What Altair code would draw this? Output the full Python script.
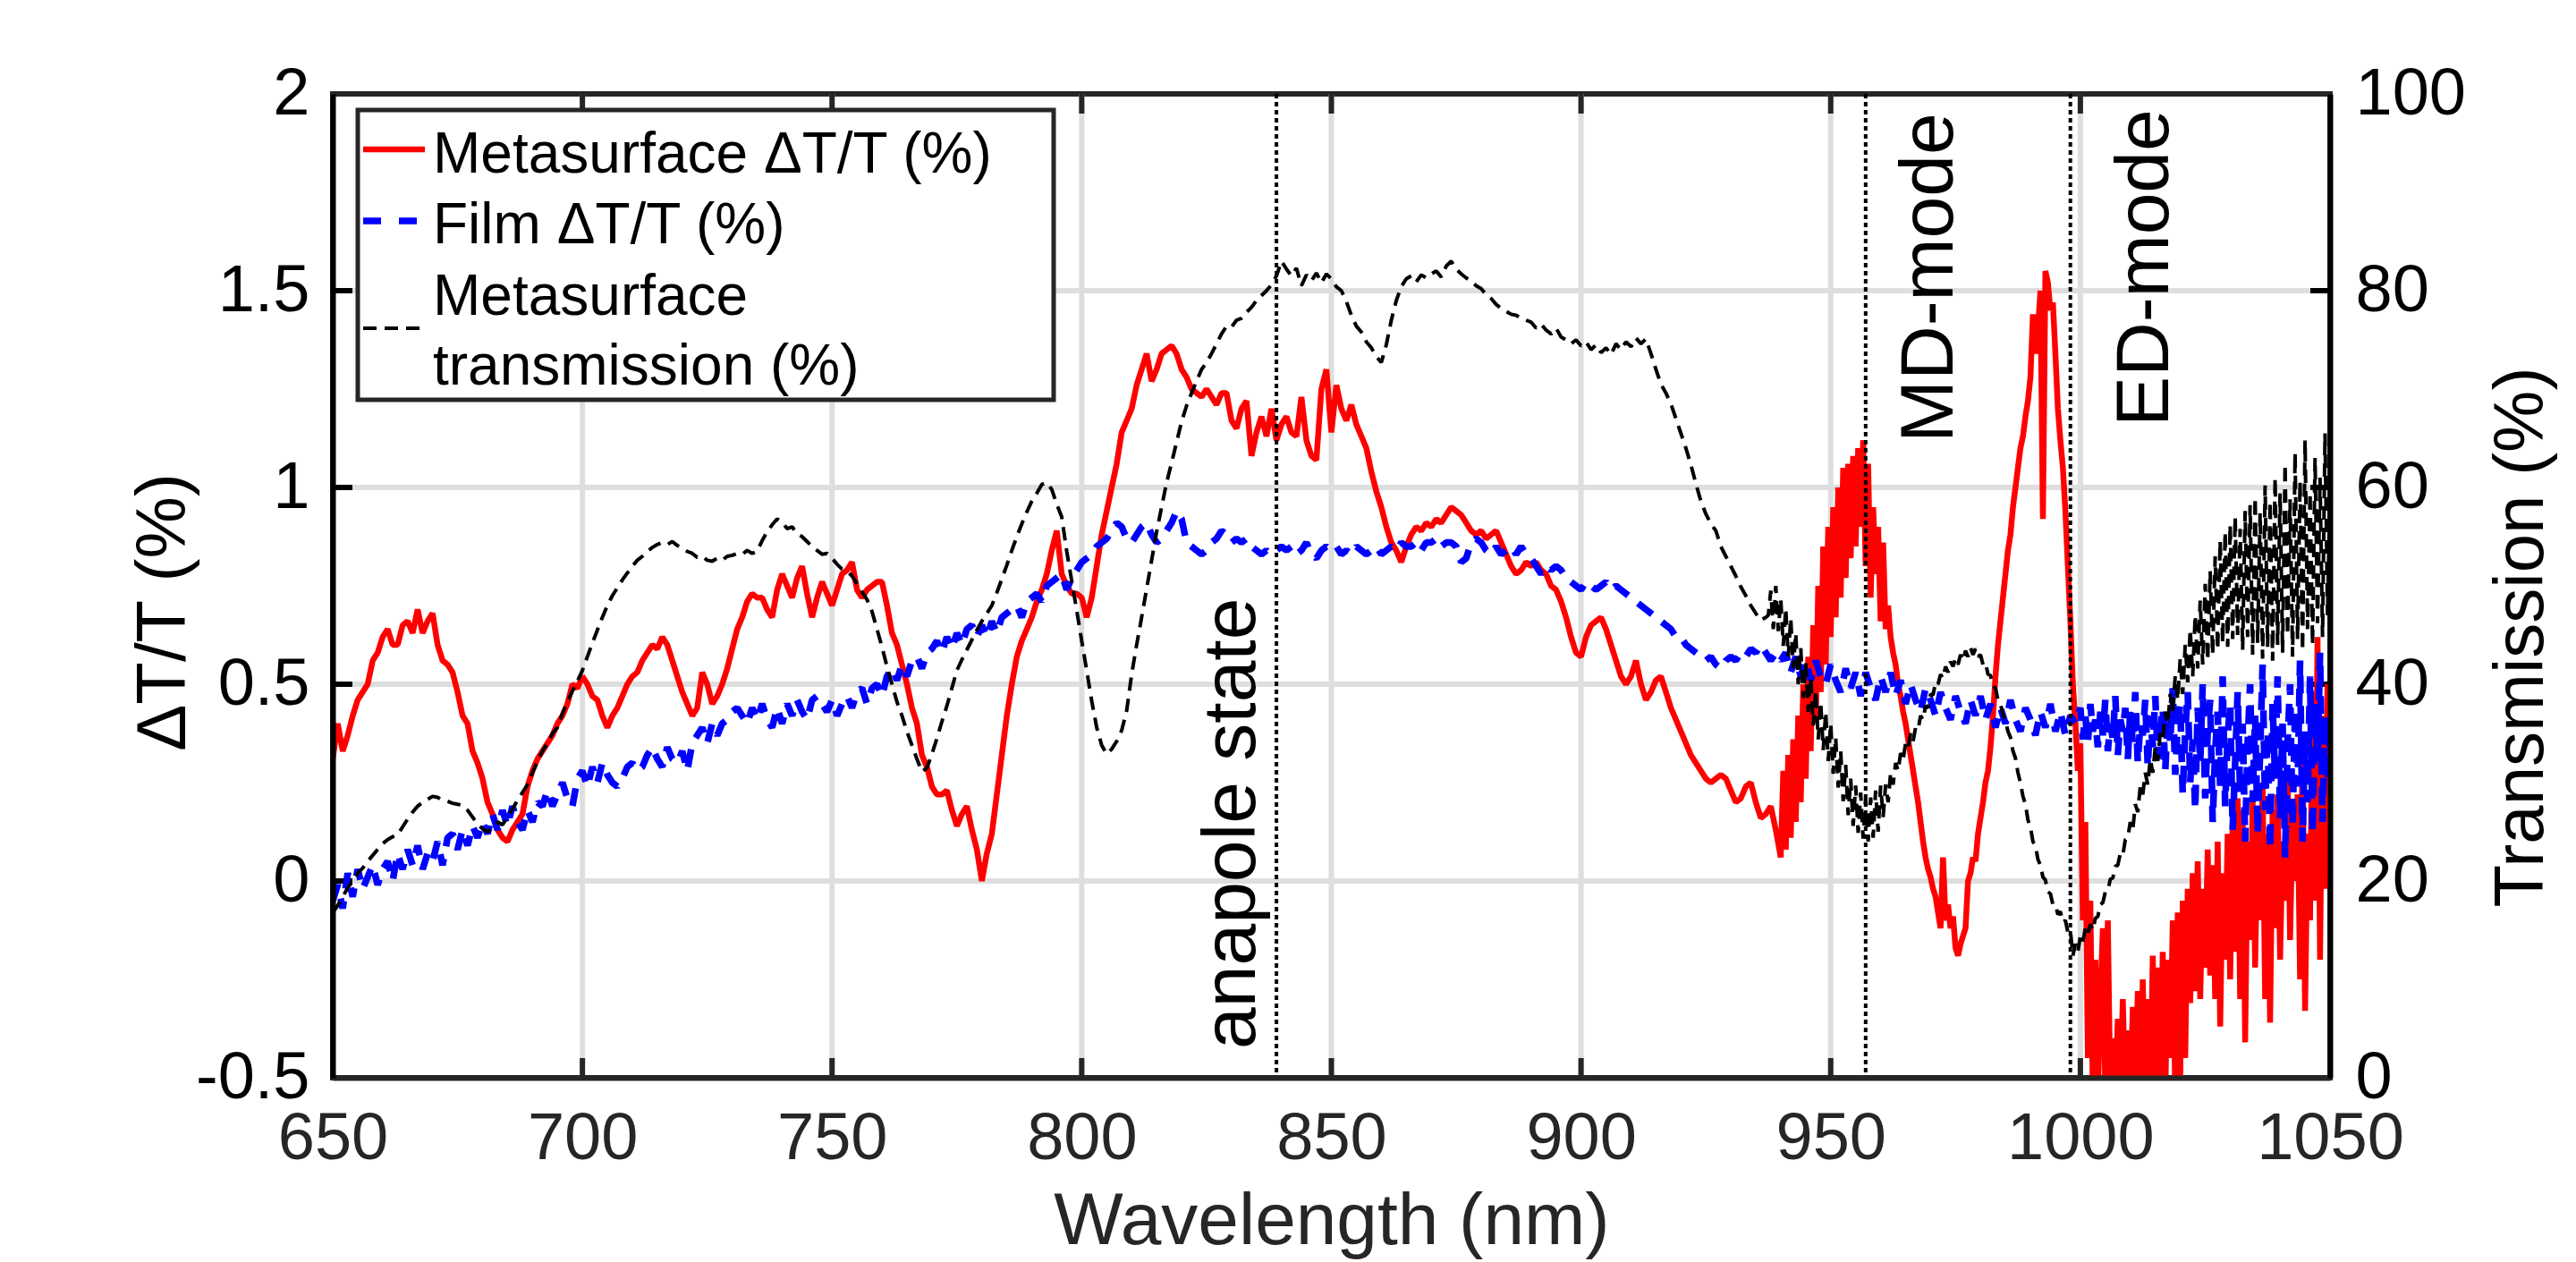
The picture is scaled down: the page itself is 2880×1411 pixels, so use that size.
import altair as alt
import pandas as pd

# ---------------------------------------------------------------------------
# Measured spectra
# ---------------------------------------------------------------------------
# Metasurface dT/T (%), 650-939 nm, 1 nm steps
red_a = [
    0.31, 0.40, 0.33, 0.37, 0.42, 0.46, 0.48, 0.50, 0.56, 0.58,
    0.62, 0.64, 0.60, 0.60, 0.65, 0.66, 0.63, 0.69, 0.63, 0.66,
    0.68, 0.60, 0.56, 0.55, 0.53, 0.48, 0.42, 0.40, 0.33, 0.30,
    0.26, 0.20, 0.17, 0.13, 0.11, 0.10, 0.13, 0.15, 0.17, 0.24,
    0.28, 0.31, 0.33, 0.35, 0.37, 0.40, 0.42, 0.45, 0.50, 0.49,
    0.52, 0.50, 0.47, 0.46, 0.42, 0.39, 0.42, 0.44, 0.47, 0.50,
    0.52, 0.53, 0.56, 0.58, 0.60, 0.59, 0.62, 0.60, 0.56, 0.52,
    0.48, 0.45, 0.42, 0.44, 0.53, 0.50, 0.45, 0.47, 0.50, 0.54,
    0.59, 0.64, 0.67, 0.71, 0.73, 0.72, 0.72, 0.69, 0.67, 0.74,
    0.78, 0.75, 0.72, 0.77, 0.80, 0.73, 0.67, 0.72, 0.76, 0.73,
    0.70, 0.74, 0.78, 0.79, 0.81, 0.74, 0.72, 0.74, 0.75, 0.76,
    0.76, 0.70, 0.63, 0.60, 0.55, 0.50, 0.44, 0.40, 0.32, 0.29,
    0.24, 0.22, 0.22, 0.23, 0.18, 0.14, 0.17, 0.19, 0.13, 0.08,
    0.00, 0.07, 0.12, 0.22, 0.32, 0.42, 0.50, 0.57, 0.61, 0.64,
    0.67, 0.71, 0.74, 0.78, 0.84, 0.89, 0.78, 0.75, 0.73, 0.73,
    0.72, 0.67, 0.72, 0.80, 0.88, 0.94, 1.00, 1.06, 1.14, 1.17,
    1.20, 1.26, 1.30, 1.34, 1.27, 1.30, 1.34, 1.35, 1.36, 1.34,
    1.30, 1.28, 1.25, 1.24, 1.23, 1.25, 1.23, 1.21, 1.24, 1.24,
    1.17, 1.15, 1.20, 1.22, 1.08, 1.14, 1.18, 1.13, 1.20, 1.12,
    1.16, 1.18, 1.14, 1.13, 1.23, 1.12, 1.08, 1.07, 1.25, 1.30,
    1.14, 1.26, 1.20, 1.17, 1.21, 1.16, 1.13, 1.10, 1.04, 0.99,
    0.95, 0.90, 0.86, 0.84, 0.81, 0.85, 0.88, 0.90, 0.89, 0.91,
    0.90, 0.92, 0.91, 0.93, 0.95, 0.94, 0.93, 0.91, 0.89, 0.88,
    0.89, 0.87, 0.88, 0.89, 0.86, 0.83, 0.80, 0.78, 0.79, 0.81,
    0.80, 0.81, 0.79, 0.78, 0.75, 0.74, 0.71, 0.67, 0.62, 0.58,
    0.57, 0.62, 0.65, 0.66, 0.67, 0.64, 0.60, 0.56, 0.52, 0.50,
    0.52, 0.56, 0.50, 0.46, 0.48, 0.51, 0.52, 0.48, 0.44, 0.41,
    0.38, 0.35, 0.32, 0.30, 0.28, 0.26, 0.25, 0.26, 0.27, 0.26,
    0.23, 0.20, 0.21, 0.24, 0.25, 0.20, 0.16, 0.17, 0.19, 0.13,
]
# Metasurface dT/T (%), 940-1050 nm, 0.5 nm steps
red_b = [
    0.06, 0.28, 0.08, 0.32, 0.11, 0.36, 0.15, 0.42, 0.20, 0.50,
    0.26, 0.57, 0.33, 0.65, 0.40, 0.75, 0.48, 0.85, 0.55, 0.90,
    0.62, 0.95, 0.67, 1.00, 0.72, 1.05, 0.77, 1.06, 0.82, 1.08,
    0.85, 1.10, 0.90, 1.12, 0.80, 1.06, 0.72, 0.95, 0.78, 0.90,
    0.66, 0.86, 0.64, 0.70, 0.62, 0.58, 0.55, 0.50, 0.47, 0.43,
    0.40, 0.36, 0.32, 0.28, 0.24, 0.20, 0.15, 0.10, 0.06, 0.03,
    0.01, -0.02, -0.04, -0.08, -0.12, 0.06, -0.10, -0.06, -0.12, -0.09,
    -0.17, -0.19, -0.16, -0.14, -0.12, 0.00, 0.02, 0.06, 0.05, 0.12,
    0.16, 0.20, 0.25, 0.28, 0.34, 0.42, 0.52, 0.60, 0.66, 0.72,
    0.78, 0.84, 0.88, 0.95, 1.00, 1.05, 1.10, 1.13, 1.18, 1.22,
    1.28, 1.44, 1.34, 1.40, 1.50, 0.92, 1.55, 1.52, 1.45, 1.47,
    1.34, 1.20, 1.12, 1.05, 0.94, 0.80, 0.66, 0.50, 0.40, 0.28,
    0.35, -0.10, 0.15, -0.45, -0.05, -0.55, -0.20, -0.55, -0.30, -0.12,
    -0.55, -0.10, -0.55, -0.40, -0.55, -0.35, -0.55, -0.30, -0.55, -0.38,
    -0.55, -0.32, -0.55, -0.28, -0.55, -0.25, -0.55, -0.30, -0.55, -0.19,
    -0.55, -0.22, -0.50, -0.18, -0.55, -0.20, -0.45, -0.10, -0.55, -0.08,
    -0.50, -0.05, -0.45, -0.02, -0.31, 0.02, -0.28, 0.05, -0.30, -0.02,
    -0.22, 0.08, -0.24, 0.04, -0.30, 0.10, -0.37, 0.02, -0.20, 0.12,
    -0.25, 0.15, -0.18, 0.21, -0.30, 0.18, -0.41, 0.10, -0.15, 0.20,
    -0.22, 0.14, -0.10, 0.25, -0.30, 0.12, -0.36, 0.18, -0.12, 0.22,
    -0.20, 0.10, -0.05, 0.28, -0.15, 0.16, 0.00, 0.22, -0.25, 0.35,
    -0.33, 0.12, -0.10, 0.48, -0.05, 0.62, -0.20, 0.42, -0.02, 0.50,
    0.10,
]

# Film dT/T (%), 650-999 nm, 1 nm steps
blue_a = [
    -0.05, -0.01, -0.07, 0.02, -0.04, 0.03, -0.02, 0.01, 0.04, -0.01,
    0.03, 0.05, 0.00, 0.07, 0.03, 0.08, 0.04, 0.09, 0.03, 0.07,
    0.05, 0.10, 0.04, 0.11, 0.12, 0.08, 0.13, 0.09, 0.14, 0.11,
    0.15, 0.12, 0.17, 0.13, 0.18, 0.14, 0.19, 0.15, 0.13, 0.18,
    0.15, 0.20, 0.19, 0.23, 0.19, 0.22, 0.25, 0.21, 0.19, 0.26,
    0.28, 0.24, 0.29, 0.25, 0.30, 0.27, 0.25, 0.24, 0.26, 0.29,
    0.30, 0.28, 0.29, 0.32, 0.34, 0.31, 0.29, 0.34, 0.31, 0.30,
    0.33, 0.28, 0.35, 0.37, 0.39, 0.35, 0.40, 0.37, 0.40, 0.41,
    0.43, 0.44, 0.42, 0.40, 0.44, 0.41, 0.45, 0.41, 0.39, 0.44,
    0.40, 0.45, 0.42, 0.46, 0.43, 0.41, 0.46, 0.47, 0.45, 0.43,
    0.46, 0.42, 0.45, 0.47, 0.44, 0.48, 0.49, 0.45, 0.49, 0.50,
    0.47, 0.52, 0.54, 0.51, 0.55, 0.52, 0.56, 0.57, 0.54, 0.58,
    0.59, 0.61, 0.58, 0.62, 0.59, 0.63, 0.60, 0.64, 0.65, 0.62,
    0.65, 0.62, 0.66, 0.63, 0.67, 0.68, 0.69, 0.70, 0.67, 0.71,
    0.72, 0.73, 0.71, 0.75, 0.76, 0.77, 0.78, 0.74, 0.77, 0.79,
    0.81, 0.82, 0.83, 0.85, 0.86, 0.87, 0.89, 0.91, 0.90, 0.87,
    0.86, 0.88, 0.90, 0.91, 0.88, 0.86, 0.87, 0.89, 0.91, 0.94,
    0.92, 0.86, 0.85, 0.84, 0.83, 0.84, 0.86, 0.87, 0.89, 0.88,
    0.86, 0.87, 0.86, 0.87, 0.85, 0.84, 0.83, 0.84, 0.83, 0.84,
    0.85, 0.84, 0.85, 0.83, 0.84, 0.86, 0.83, 0.82, 0.84, 0.85,
    0.84, 0.85, 0.83, 0.84, 0.83, 0.85, 0.84, 0.83, 0.84, 0.85,
    0.83, 0.84, 0.85, 0.84, 0.86, 0.85, 0.85, 0.86, 0.84, 0.86,
    0.86, 0.87, 0.85, 0.86, 0.86, 0.85, 0.81, 0.82, 0.86, 0.87,
    0.86, 0.84, 0.83, 0.85, 0.83, 0.84, 0.85, 0.83, 0.85, 0.83,
    0.82, 0.80, 0.78, 0.80, 0.79, 0.80, 0.79, 0.77, 0.76, 0.75,
    0.74, 0.76, 0.75, 0.74, 0.75, 0.76, 0.74, 0.75, 0.74, 0.73,
    0.72, 0.71, 0.70, 0.69, 0.68, 0.67, 0.66, 0.65, 0.64, 0.62,
    0.62, 0.60, 0.59, 0.58, 0.57, 0.56, 0.57, 0.55, 0.54, 0.56,
    0.57, 0.56, 0.58, 0.57, 0.59, 0.58, 0.60, 0.58, 0.56, 0.58,
    0.56, 0.58, 0.53, 0.57, 0.52, 0.56, 0.51, 0.56, 0.52, 0.50,
    0.55, 0.51, 0.48, 0.54, 0.49, 0.53, 0.47, 0.53, 0.49, 0.46,
    0.52, 0.48, 0.53, 0.47, 0.51, 0.45, 0.50, 0.46, 0.43, 0.49,
    0.46, 0.42, 0.48, 0.44, 0.41, 0.47, 0.43, 0.40, 0.46, 0.42,
    0.47, 0.41, 0.45, 0.39, 0.44, 0.40, 0.46, 0.41, 0.38, 0.44,
    0.41, 0.37, 0.43, 0.39, 0.45, 0.38, 0.43, 0.37, 0.42, 0.40,
]
# Film dT/T (%), 1000-1050 nm, 0.5 nm steps
blue_b = [
    0.44, 0.36, 0.42, 0.35, 0.45, 0.38, 0.41, 0.34, 0.43, 0.37,
    0.46, 0.33, 0.40, 0.36, 0.47, 0.32, 0.41, 0.38, 0.44, 0.31,
    0.43, 0.35, 0.48, 0.30, 0.40, 0.37, 0.46, 0.29, 0.42, 0.34,
    0.47, 0.31, 0.39, 0.44, 0.28, 0.42, 0.35, 0.49, 0.27, 0.40,
    0.45, 0.22, 0.38, 0.48, 0.25, 0.36, 0.18, 0.44, 0.30, 0.50,
    0.21, 0.38, 0.46, 0.15, 0.33, 0.43, 0.24, 0.52, 0.19, 0.37,
    0.45, 0.13, 0.30, 0.48, 0.22, 0.40, 0.10, 0.35, 0.50, 0.20,
    0.42, 0.12, 0.33, 0.55, 0.18, 0.38, 0.08, 0.45, 0.26, 0.52,
    0.16, 0.40, 0.06, 0.35, 0.50, 0.14, 0.44, 0.24, 0.56, 0.10,
    0.38, 0.20, 0.52, 0.12, 0.45, 0.30, 0.58, 0.15, 0.42, 0.25,
    0.36,
]

# Metasurface transmission (%), 650-937 nm, 1 nm steps
black_a = [
    16.8, 17.5, 18.4, 19.3, 20.0, 20.8, 21.3, 22.0, 22.6, 23.2,
    23.8, 24.2, 24.5, 24.7, 25.5, 26.3, 27.0, 27.6, 28.0, 28.3,
    28.6, 28.5, 28.2, 28.1, 27.9, 27.8, 27.7, 27.2, 26.5, 25.8,
    25.3, 25.0, 25.4, 26.0, 25.7, 26.5, 27.3, 28.2, 29.0, 29.8,
    31.0, 32.2, 33.2, 34.0, 35.0, 35.6, 37.0, 38.2, 39.3, 40.3,
    41.4, 42.8, 44.2, 45.5, 46.8, 48.0, 49.0, 49.8, 50.6, 51.3,
    52.0, 52.6, 53.0, 53.5, 53.9, 54.2, 54.4, 54.2, 54.5, 54.1,
    53.8, 53.5, 53.3, 52.9, 53.0, 52.6, 52.5, 52.8, 52.6, 53.0,
    53.1, 53.3, 53.2, 53.6, 53.3, 53.5, 54.6, 55.5, 56.2, 56.8,
    56.5, 55.8, 56.0, 55.3, 55.0, 54.5, 54.0, 53.6, 53.2, 53.3,
    52.8, 52.2, 51.7, 51.5, 51.0, 50.2, 49.4, 48.6, 47.4, 45.6,
    43.8, 41.8, 40.0, 38.2, 36.8, 35.2, 33.8, 32.4, 31.1, 31.5,
    32.9, 34.5, 36.2, 37.8, 39.6, 41.4, 42.5, 43.5, 44.5, 45.5,
    46.4, 47.2, 48.0, 49.3, 50.7, 52.1, 53.6, 55.0, 56.3, 57.5,
    58.6, 59.4, 60.3, 60.5, 59.8, 58.3, 57.0, 53.5, 50.5, 47.5,
    44.4, 41.4, 38.3, 35.6, 33.8, 32.9, 33.4, 34.2, 35.3, 37.3,
    41.0, 44.0, 46.8, 49.7, 52.6, 55.5, 58.0, 60.5, 62.5, 64.6,
    66.7, 68.3, 69.6, 70.8, 72.0, 72.7, 73.6, 74.6, 75.6, 76.4,
    76.3, 77.0, 77.2, 77.8, 78.3, 79.0, 79.5, 80.0, 80.6, 81.5,
    83.0, 82.2, 81.5, 82.3, 80.5, 81.6, 81.0, 81.8, 80.8, 81.7,
    81.2, 80.4, 80.0, 78.9, 77.5, 76.4, 75.8, 74.8, 74.2, 73.3,
    72.7, 74.5, 77.0, 79.0, 80.4, 81.2, 81.5, 80.9, 81.6, 81.3,
    81.7, 82.0, 81.4, 82.5, 83.0, 82.2, 81.7, 81.3, 81.0, 80.5,
    80.2, 79.6, 79.2, 78.6, 78.2, 77.9, 77.6, 77.5, 77.2, 77.0,
    76.8, 76.2, 76.6, 76.0, 75.6, 76.2, 75.3, 75.0, 74.6, 75.0,
    74.4, 74.8, 74.0, 74.5, 73.7, 74.2, 73.5, 74.6, 74.0, 74.8,
    74.3, 75.2, 74.6, 75.1, 73.6, 72.0, 70.5, 69.6, 68.5, 67.0,
    65.5, 64.0, 62.3, 60.4, 58.6, 57.3, 56.3, 55.6, 54.0, 53.0,
    52.0, 51.0, 49.9, 49.0, 48.0, 47.2, 46.5, 46.8,
]
# Metasurface transmission (%), 937.5-1050 nm, 0.5 nm steps
black_b = [
    47.0, 49.5, 45.6, 50.0, 45.4, 48.7, 43.9, 47.7, 42.8, 46.7,
    41.6, 45.2, 40.0, 43.7, 38.6, 42.2, 37.2, 40.7, 35.8, 39.4,
    34.4, 38.2, 33.3, 37.2, 32.2, 36.0, 30.9, 34.6, 29.5, 33.2,
    28.1, 31.8, 26.7, 30.4, 25.6, 29.7, 24.9, 29.0, 24.3, 28.4,
    24.0, 28.5, 24.4, 29.2, 25.0, 29.7, 26.5, 29.8, 28.0, 31.0,
    29.8, 32.0, 31.2, 33.0, 32.3, 34.0, 33.5, 35.0, 34.2, 35.6,
    35.4, 36.8, 36.4, 37.8, 37.6, 39.0, 38.9, 40.2, 40.0, 41.0,
    40.6, 41.8, 41.2, 42.3, 41.8, 42.6, 42.0, 43.0, 42.4, 43.4,
    42.8, 43.7, 43.0, 43.6, 42.8, 43.0, 42.0, 42.2, 41.0, 40.9,
    39.8, 39.6, 38.4, 38.0, 36.9, 36.3, 35.2, 34.6, 33.2, 32.5,
    31.0, 30.0, 28.6, 27.8, 26.2, 25.5, 24.0, 23.6, 22.2, 21.6,
    20.4, 20.1, 18.9, 18.7, 17.6, 17.6, 16.6, 16.9, 15.8, 16.0,
    14.8, 15.0, 12.4, 13.6, 12.8, 14.4, 13.8, 15.2, 14.6, 15.6,
    15.0, 16.2, 16.4, 17.6, 17.8, 18.9, 19.0, 20.2, 20.3, 21.5,
    21.6, 22.8, 22.6, 24.2, 24.4, 26.0, 25.2, 27.8, 27.0, 29.6,
    28.8, 31.0, 29.8, 32.4, 31.0, 33.6, 32.2, 35.0, 34.4, 37.2,
    36.0, 39.0, 37.2, 40.8, 38.4, 42.6, 39.0, 44.0, 40.2, 45.6,
    40.8, 47.0, 41.6, 48.5, 42.0, 50.2, 42.4, 51.5, 43.0, 53.0,
    43.5, 54.6, 44.2, 55.5, 43.8, 56.2, 44.6, 57.0, 45.0, 55.8,
    43.5, 57.6, 44.8, 58.2, 43.0, 59.0, 44.2, 57.4, 42.6, 60.2,
    43.8, 58.6, 42.4, 61.0, 44.0, 59.4, 43.2, 62.4, 45.0, 58.8,
    42.8, 63.5, 44.6, 60.6, 43.4, 64.8, 45.6, 59.5, 44.0, 63.0,
    46.2, 61.0, 44.8, 65.5, 47.0, 60.0,
]

# Resonance markers and axis ticks
mode_wl = [839.0, 957.0, 998.0]
mode_labels = ["anapole state", "MD-mode", "ED-mode"]
label_wl = [834.7, 974.4, 1017.6]
x_ticks = [650, 700, 750, 800, 850, 900, 950, 1000, 1050]
dt_ticks = [-0.5, 0, 0.5, 1, 1.5, 2]
tr_ticks = [0, 20, 40, 60, 80, 100]


def steps(start, step, n):
    return [round(start + step * i, 2) for i in range(n)]


red = pd.DataFrame({
    "wl": steps(650, 1, len(red_a)) + steps(940, 0.5, len(red_b)),
    "v": red_a + red_b,
})
blue = pd.DataFrame({
    "wl": steps(650, 1, len(blue_a)) + steps(1000, 0.5, len(blue_b)),
    "v": blue_a + blue_b,
})
black = pd.DataFrame({
    "wl": steps(650, 1, len(black_a)) + steps(937.5, 0.5, len(black_b)),
    "T": black_a + black_b,
})

# ---------------------------------------------------------------------------
# Chart
# ---------------------------------------------------------------------------
W, H = 2233, 1100
FONT = "Liberation Sans"
GRID = "#dedede"
DARK = "#262626"

x_axis = alt.Axis(
    values=x_ticks, labelExpr="datum.value + ''", labelLimit=500,
    grid=False, ticks=False, tickSize=0,
    domainColor=DARK, domainWidth=6,
    labelFont=FONT, labelFontSize=74, labelColor=DARK, labelPadding=90,
    labelBaseline="alphabetic", labelFlush=False, labelOverlap=False,
    title="Wavelength (nm)", titleFont=FONT, titleFontSize=82,
    titleFontWeight="normal", titleColor=DARK,
    titleBaseline="alphabetic", titleY=185, zindex=1,
)
X = alt.X("wl:Q", scale=alt.Scale(domain=[650, 1050], nice=False, zero=False), axis=x_axis)

y_axis = alt.Axis(
    values=dt_ticks, labelExpr="datum.value + ''", labelLimit=500,
    grid=False, ticks=False, tickSize=0,
    domainColor="black", domainWidth=6,
    labelFont=FONT, labelFontSize=74, labelColor="black", labelPadding=26,
    labelOverlap=False, labelFlush=False,
    title="ΔT/T (%)", titleFont=FONT, titleFontSize=78, titleFontWeight="normal",
    titleColor="black", titleAngle=270, titleAlign="center",
    titleBaseline="alphabetic", titleX=-166, titleY=579, zindex=1,
)
Y = alt.Y("v:Q", scale=alt.Scale(domain=[-0.5, 2], nice=False, zero=False), axis=y_axis)

t_axis = alt.Axis(
    orient="right", values=tr_ticks, labelExpr="datum.value + ''", labelLimit=500,
    grid=False, ticks=False, tickSize=0,
    domainColor="black", domainWidth=6,
    labelFont=FONT, labelFontSize=74, labelColor="black", labelPadding=28,
    labelOverlap=False, labelFlush=False,
    title="Transmission (%)", titleFont=FONT, titleFontSize=78, titleFontWeight="normal",
    titleColor="black", titleAngle=270, titleAlign="center",
    titleBaseline="alphabetic", titleX=237, titleY=607, zindex=1,
)
YT = alt.Y("T:Q", scale=alt.Scale(domain=[0, 100], nice=False, zero=False), axis=t_axis)

# grid lines and inward ticks
inner_x = pd.DataFrame({"wl": x_ticks[1:-1]})
inner_y = pd.DataFrame({"v": dt_ticks[1:-1]})

vgrid = alt.Chart(inner_x).mark_rule(color=GRID, strokeWidth=6).encode(x=X)
hgrid = alt.Chart(inner_y).mark_rule(color=GRID, strokeWidth=6).encode(y=Y)
bottom_ticks = alt.Chart(inner_x).mark_rule(color=DARK, strokeWidth=6).encode(
    x=X, y=alt.value(H - 22), y2=alt.value(H))
top_ticks = alt.Chart(inner_x).mark_rule(color=DARK, strokeWidth=6).encode(
    x=X, y=alt.value(0), y2=alt.value(22))
left_ticks = alt.Chart(inner_y).mark_rule(color="black", strokeWidth=6).encode(
    y=Y, x=alt.value(0), x2=alt.value(22))
right_ticks = alt.Chart(inner_y).mark_rule(color="black", strokeWidth=6).encode(
    y=Y, x=alt.value(W - 22), x2=alt.value(W))

red_line = alt.Chart(red).mark_line(
    color="#ff0000", strokeWidth=6.5, strokeJoin="bevel", clip=True
).encode(x=X, y=Y)
blue_line = alt.Chart(blue).mark_line(
    color="#0000ff", strokeWidth=7.5, strokeDash=[20, 14], strokeJoin="bevel", clip=True
).encode(x=X, y=Y)
black_line = alt.Chart(black).mark_line(
    color="black", strokeWidth=4, strokeDash=[15, 9], strokeJoin="bevel", clip=True
).encode(x=X, y=YT)

left_group = alt.layer(vgrid, hgrid, bottom_ticks, top_ticks, left_ticks, right_ticks,
                       red_line, blue_line)

# dotted resonance markers
markers = alt.Chart(pd.DataFrame({"wl": mode_wl})).mark_rule(
    color="black", strokeWidth=4, strokeDash=[5, 4]
).encode(x=X)


def mode_text(i, py):
    return alt.Chart(pd.DataFrame({"wl": [label_wl[i]], "label": [mode_labels[i]]})).mark_text(
        angle=270, align="left", baseline="alphabetic", fontSize=84, font=FONT, color="black"
    ).encode(x=X, y=alt.value(py), text="label:N")


anapole_txt = mode_text(0, 1068)
md_txt = mode_text(1, 390)
ed_txt = mode_text(2, 372)

# legend
one = pd.DataFrame({"k": [0]})
legend_box = alt.Chart(one).mark_rect(fill="white", stroke=DARK, strokeWidth=5).encode(
    x=alt.value(28), x2=alt.value(806), y=alt.value(18), y2=alt.value(342))
leg_red = alt.Chart(one).mark_rule(color="#ff0000", strokeWidth=6.5).encode(
    x=alt.value(34), x2=alt.value(103), y=alt.value(62))
leg_blue = alt.Chart(one).mark_rule(color="#0000ff", strokeWidth=7.5, strokeDash=[20, 20]).encode(
    x=alt.value(34), x2=alt.value(103), y=alt.value(142))
leg_black = alt.Chart(one).mark_rule(color="black", strokeWidth=4, strokeDash=[15, 9]).encode(
    x=alt.value(34), x2=alt.value(103), y=alt.value(262))


def legend_text(txt, py):
    return alt.Chart(one).mark_text(
        align="left", baseline="alphabetic", fontSize=64, font=FONT, color="black"
    ).encode(x=alt.value(112), y=alt.value(py), text=alt.value(txt))


leg_t1 = legend_text("Metasurface ΔT/T (%)", 88)
leg_t2 = legend_text("Film ΔT/T (%)", 167)
leg_t3 = legend_text("Metasurface", 247)
leg_t4 = legend_text("transmission (%)", 325)

chart = alt.layer(
    left_group, black_line, markers, anapole_txt, md_txt, ed_txt,
    legend_box, leg_red, leg_blue, leg_black, leg_t1, leg_t2, leg_t3, leg_t4,
).resolve_scale(
    y="independent"
).properties(
    width=W, height=H,
    padding={"left": 372, "top": 105, "right": 275, "bottom": 206},
    autosize=alt.AutoSizeParams(type="none"),
    background="white",
).configure_view(
    stroke=DARK, strokeWidth=6
)

chart.save("out.html", embed_options={"renderer": "svg", "actions": False})
